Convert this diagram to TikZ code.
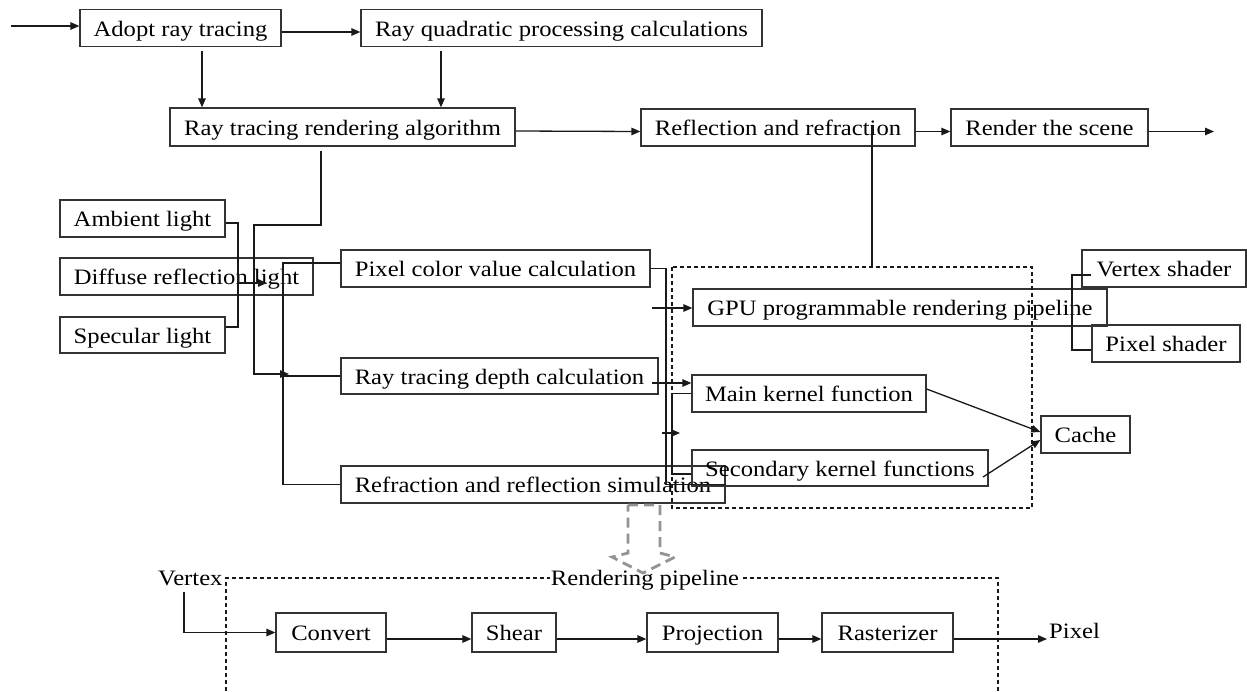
\documentclass[tikz,border=0pt]{standalone}
\usepackage{fontspec}
\setmainfont{Liberation Serif}[FakeStretch=1.12]
\usetikzlibrary{arrows.meta}
\begin{document}
\begin{tikzpicture}[x=1pt,y=-1pt,
  box/.style={draw=black!80,line width=1.3pt,minimum height=37pt,text height=18pt,text depth=2pt,inner sep=0pt,font=\fontsize{22}{26}\selectfont},
  ln/.style={draw=black!90,line width=1.3pt},
  arr/.style={ln,-{Triangle[length=9pt,width=7.5pt]}},
  dbox/.style={draw=black!90,line width=1.3pt,dash pattern=on 4pt off 3pt},
  lbl/.style={inner sep=1pt,font=\fontsize{22}{26}\selectfont},
  hollow/.style={draw=gray!85,line width=2.8pt,dash pattern=on 10pt off 6pt}]
\fill[white] (0,0) rectangle (1247,691);
\useasboundingbox (0,0) rectangle (1247,691);

% top row
\node[box,minimum width=201pt] (adopt) at (180.5,28) {Adopt ray tracing};
\node[box,minimum width=401pt] (quad) at (561.5,28) {Ray quadratic processing calculations};
\node[box,minimum width=345pt,minimum height=38pt] (rtra) at (342.5,127) {Ray tracing rendering algorithm};
\node[box,minimum width=274pt] (refl) at (778,127.5) {Reflection and refraction};
\node[box,minimum width=197pt] (render) at (1049.5,127.5) {Render the scene};

% light sources
\node[box,minimum width=165pt] (ambient) at (142.5,218.5) {Ambient light};
\node[box,minimum width=253pt] (diffuse) at (186.5,276.5) {Diffuse reflection light};
\node[box,minimum width=165pt,minimum height=36pt] (specular) at (142.5,335) {Specular light};

% calculations
\node[box,minimum width=309pt] (pixcol) at (495.5,268.5) {Pixel color value calculation};
\node[box,minimum width=317pt,minimum height=36pt] (depth) at (499.5,376) {Ray tracing depth calculation};
\node[box,minimum width=384pt] (refrsim) at (533,484.5) {Refraction and reflection simulation};

% GPU
\node[box,minimum width=414pt] (gpu) at (900,307.5) {GPU programmable rendering pipeline};
\node[box,minimum width=164pt] (vsh) at (1164,268.5) {Vertex shader};
\node[box,minimum width=148pt] (psh) at (1166,343.5) {Pixel shader};
\node[box,minimum width=234pt] (mainkf) at (809,393.5) {Main kernel function};
\node[box,minimum width=296pt,minimum height=36pt] (seckf) at (840,468) {Secondary kernel functions};
\node[box,minimum width=89pt] (cache) at (1085.5,434.5) {Cache};

% bottom pipeline
\node[box,minimum width=110pt,minimum height=39pt] (convert) at (331,632.5) {Convert};
\node[box,minimum width=84pt,minimum height=39pt] (shear) at (514,632.5) {Shear};
\node[box,minimum width=131pt,minimum height=39pt] (proj) at (712.5,632.5) {Projection};
\node[box,minimum width=131pt,minimum height=39pt] (rast) at (887.5,632.5) {Rasterizer};
\node[lbl,anchor=base west] (vertex) at (157,585) {Vertex};
\node[lbl,anchor=base west] (pixel) at (1048,638) {Pixel};

% dashed frames
\draw[dbox] (672,267) rectangle (1032,508);
\draw[dbox] (226,691) -- (226,578) -- (998,578) -- (998,691);
\node[lbl,anchor=base,fill=white] (rpl) at (645,585) {Rendering pipeline};

% hollow grey arrow
\draw[hollow] (628,505) -- (660,505) -- (660,553) -- (675,557) -- (643,573) -- (612,557) -- (628,553) -- cycle;

% top connectors
\coordinate (in) at (11,26);
\draw[arr] (in) -- (adopt.west |- in);
\draw[arr] ([yshift=-4pt]adopt.east) -- ([yshift=-4pt]quad.west);
\draw[arr] (202,51) -- (202,0 |- rtra.north);
\draw[arr] (441,51) -- (441,0 |- rtra.north);
\draw[arr] ([yshift=-4pt]rtra.east) -- ([yshift=-4pt]refl.west);
\draw[arr] ([yshift=-4pt]refl.east) -- ([yshift=-4pt]render.west);
\coordinate (out) at (1214,131.5);
\draw[arr] ([yshift=-4pt]render.east) -- (out);
\draw[ln] (872,125) -- (872,267);

% left side connectors
\draw[arr] (321,151) |- (254,225) |- (289,374);
\draw[ln] ([yshift=5.5pt]pixcol.west) -| (283,0 |- refrsim.west) -- (refrsim.west);
\draw[ln] (283,0 |- depth.west) -- (depth.west);
\draw[ln] ([yshift=-4.5pt]ambient.east) -| (238,327) -- (specular.east |- 0,327);
\draw[arr] (238,283) -- (267,283);

% middle connectors
\draw[ln] (pixcol.east) -| (666,0 |- refrsim.east) -- (refrsim.east);
\draw[arr] (652,308) -- (gpu.west |- 0,308);
\draw[arr] (652,383) -- (mainkf.west |- 0,383);
\draw[ln] (mainkf.west) -| (672,474) -- (seckf.west |- 0,474);
\draw[arr] (662,433) -- (680,433);
\draw[arr] ([yshift=4.5pt]mainkf.east) -- ([yshift=2.5pt]cache.west);
\draw[arr] (983,477) -- ([yshift=-5.5pt]cache.west);
\draw[ln] (1091,275) -| (1072,350) -- (psh.west |- 0,350);

% bottom connectors
\draw[arr] (184,592) |- (convert.west);
\draw[arr] ([yshift=-6.5pt]convert.east) -- ([yshift=-6.5pt]shear.west);
\draw[arr] ([yshift=-6.5pt]shear.east) -- ([yshift=-6.5pt]proj.west);
\draw[arr] ([yshift=-6.5pt]proj.east) -- ([yshift=-6.5pt]rast.west);
\draw[arr] ([yshift=-6.5pt]rast.east) -- ([xshift=-1pt]pixel.west |- 0,639);
\end{tikzpicture}
\end{document}
